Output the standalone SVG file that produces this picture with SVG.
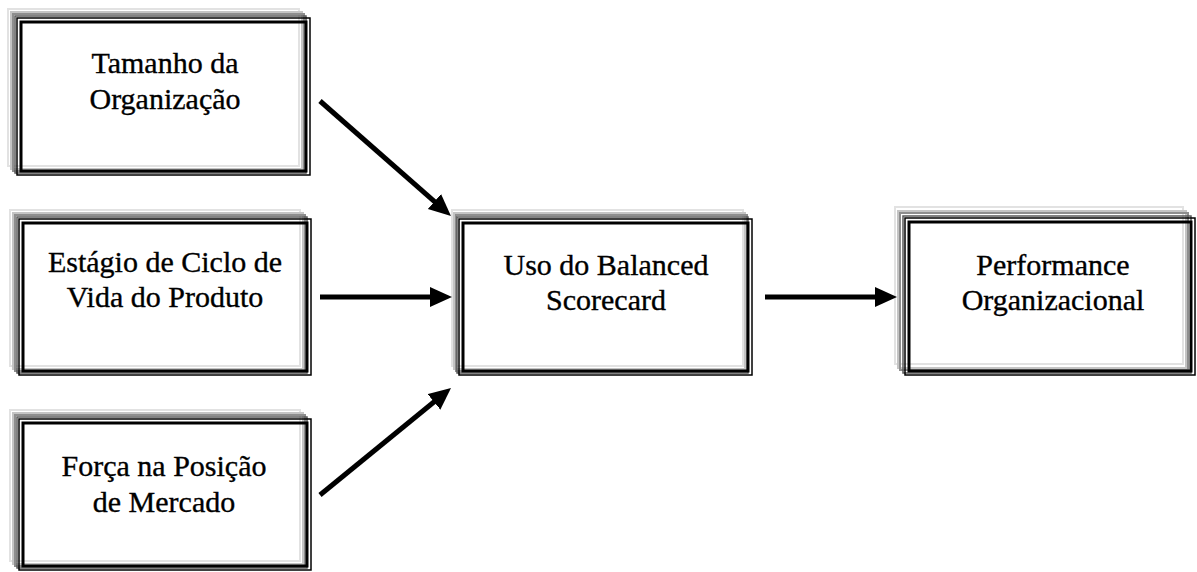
<svg xmlns="http://www.w3.org/2000/svg" width="1197" height="572" viewBox="0 0 1197 572">
  <style>
    .s1 { fill: none; stroke: #e2e2e2; stroke-width: 2; }
    .s2 { fill: none; stroke: #c4c4c4; stroke-width: 2; }
    .s3 { fill: none; stroke: #8e8e8e; stroke-width: 2; }
    .s4 { fill: none; stroke: #5a5a5a; stroke-width: 1.5; }
    .ob { fill: none; stroke: #000000; stroke-width: 1.5; }
    .ib { fill: none; stroke: #000000; stroke-width: 3; }
    .lbl { font-family: "Liberation Serif", "Times New Roman", serif; font-size: 30px; fill: #000000; stroke: #000000; stroke-width: 0.35; text-anchor: middle; }
    .conn { stroke: #000000; stroke-width: 5; fill: none; }
  </style>
  <defs>
    <marker id="head" markerUnits="userSpaceOnUse" markerWidth="24" markerHeight="22" refX="7" refY="10" orient="auto">
      <path d="M0,0 L22,10 L0,20 Z" fill="#000000"/>
    </marker>
  </defs>
  <rect x="0" y="0" width="1197" height="572" fill="#ffffff"/>

  <!-- node: Tamanho da Organização -->
  <g id="tamanho" transform="translate(17,18)">
    <rect class="s1" x="-9" y="-9" width="291" height="157"/>
    <rect class="s2" x="-6" y="-6" width="291" height="157"/>
    <rect class="s3" x="-4" y="-4" width="291" height="157"/>
    <rect class="s4" x="-2" y="-2" width="291" height="157"/>
    <rect class="ob" x="0" y="0" width="293" height="157"/>
    <rect class="ib" x="4" y="4" width="285" height="149"/>
    <text class="lbl" x="148" y="55">Tamanho da</text>
    <text class="lbl" x="148" y="91">Organização</text>
  </g>

  <!-- node: Estágio de Ciclo de Vida do Produto -->
  <g id="estagio" transform="translate(19,219)">
    <rect class="s1" x="-9" y="-9" width="290" height="156"/>
    <rect class="s2" x="-6" y="-6" width="290" height="156"/>
    <rect class="s3" x="-4" y="-4" width="290" height="156"/>
    <rect class="s4" x="-2" y="-2" width="290" height="156"/>
    <rect class="ob" x="0" y="0" width="292" height="156"/>
    <rect class="ib" x="4" y="4" width="284" height="148"/>
    <text class="lbl" x="146" y="53">Estágio de Ciclo de</text>
    <text class="lbl" x="146" y="88">Vida do Produto</text>
  </g>

  <!-- node: Força na Posição de Mercado -->
  <g id="forca" transform="translate(19,419)">
    <rect class="s1" x="-9" y="-9" width="290" height="151"/>
    <rect class="s2" x="-6" y="-6" width="290" height="151"/>
    <rect class="s3" x="-4" y="-4" width="290" height="151"/>
    <rect class="s4" x="-2" y="-2" width="290" height="151"/>
    <rect class="ob" x="0" y="0" width="292" height="151"/>
    <rect class="ib" x="4" y="4" width="284" height="143"/>
    <text class="lbl" x="145" y="57">Força na Posição</text>
    <text class="lbl" x="145" y="93">de Mercado</text>
  </g>

  <!-- node: Uso do Balanced Scorecard -->
  <g id="uso-bsc" transform="translate(459,219)">
    <rect class="s1" x="-7" y="-9" width="291" height="156"/>
    <rect class="s2" x="-5" y="-6" width="291" height="156"/>
    <rect class="s3" x="-3" y="-4" width="291" height="156"/>
    <rect class="s4" x="-2" y="-2" width="291" height="156"/>
    <rect class="ob" x="0" y="0" width="293" height="156"/>
    <rect class="ib" x="4" y="4" width="285" height="148"/>
    <text class="lbl" x="147" y="56">Uso do Balanced</text>
    <text class="lbl" x="147" y="91">Scorecard</text>
  </g>

  <!-- node: Performance Organizacional -->
  <g id="performance" transform="translate(905,218)">
    <rect class="s1" x="-10" y="-11" width="288" height="157"/>
    <rect class="s2" x="-7" y="-7" width="288" height="157"/>
    <rect class="s3" x="-5" y="-5" width="288" height="157"/>
    <rect class="s4" x="-2" y="-2" width="288" height="157"/>
    <rect class="ob" x="0" y="0" width="290" height="157"/>
    <rect class="ib" x="4" y="4" width="282" height="149"/>
    <text class="lbl" x="148" y="57">Performance</text>
    <text class="lbl" x="148" y="92">Organizacional</text>
  </g>

  <!-- connectors -->
  <g id="connectors">
    <line class="conn" x1="320" y1="101" x2="439.7" y2="206.1" marker-end="url(#head)"/>
    <line class="conn" x1="320" y1="297" x2="437" y2="297" marker-end="url(#head)"/>
    <line class="conn" x1="320" y1="495" x2="439.4" y2="397.5" marker-end="url(#head)"/>
    <line class="conn" x1="765" y1="297" x2="882" y2="297" marker-end="url(#head)"/>
  </g>
</svg>
